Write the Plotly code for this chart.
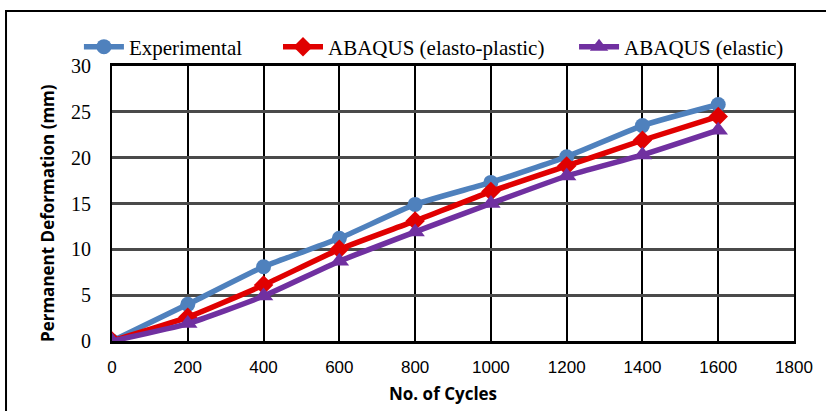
import plotly.graph_objects as go

cycles = [0, 200, 400, 600, 800, 1000, 1200, 1400, 1600]
experimental = [0, 4.0, 8.1, 11.2, 14.9, 17.3, 20.1, 23.5, 25.8]
elasto_plastic = [0, 2.6, 6.1, 10.0, 13.1, 16.3, 19.1, 21.9, 24.5]
elastic = [0, 1.9, 4.9, 8.7, 11.9, 15.0, 18.0, 20.3, 23.0]

x_ticks = [0, 200, 400, 600, 800, 1000, 1200, 1400, 1600, 1800]
y_ticks = [0, 5, 10, 15, 20, 25, 30]

x_title = "No. of Cycles"
y_title = "Permanent Deformation (mm)"

series = [
    ("Experimental", experimental, "#4F81BD", "circle", 15, "legend"),
    ("ABAQUS (elasto-plastic)", elasto_plastic, "#E00000", "diamond", 15, "legend2"),
    ("ABAQUS (elastic)", elastic, "#7030A0", "triangle-up", 17, "legend3"),
]

fig = go.Figure()
for name, vals, color, sym, size, lg in series:
    fig.add_trace(go.Scatter(
        x=cycles, y=vals, name=name, mode="lines+markers", legend=lg,
        line=dict(color=color, width=5.5, shape="spline", smoothing=0.5),
        marker=dict(symbol=sym, size=size, color=color),
    ))

serif = "Liberation Serif"
legend_font = dict(family=serif, size=21, color="black")
leg_common = dict(orientation="h", yanchor="middle", y=1.069, xanchor="left",
                  font=legend_font, bgcolor="rgba(0,0,0,0)", itemwidth=40)

fig.update_layout(
    width=826, height=411,
    margin=dict(l=112, r=32, t=66, b=70, autoexpand=False),
    paper_bgcolor="white", plot_bgcolor="white",
    showlegend=True,
    legend=dict(x=-0.0485, **leg_common),
    legend2=dict(x=0.2434, **leg_common),
    legend3=dict(x=0.6775, **leg_common),
    xaxis=dict(range=[0, 1800], tickvals=x_ticks, ticktext=[str(v) for v in x_ticks],
               showgrid=True, gridcolor="black", gridwidth=2,
               showline=True, linecolor="black", linewidth=3, mirror=True,
               ticks="", zeroline=False, automargin=False, ticklabelstandoff=9,
               tickfont=dict(family="Liberation Sans", size=17, color="black")),
    yaxis=dict(range=[0, 30], tickvals=y_ticks, ticktext=[str(v) for v in y_ticks],
               showgrid=True, gridcolor="#4a4a4a", gridwidth=2.5,
               showline=True, linecolor="black", linewidth=2, mirror=True,
               ticks="", zeroline=False, automargin=False, ticklabelstandoff=15,
               tickfont=dict(family=serif, size=20, color="black")),
)

fig.add_annotation(text="<b>%s</b>" % x_title, xref="paper", yref="paper",
                   x=0.4853, y=-0.191, xanchor="center", yanchor="middle", showarrow=False,
                   font=dict(family="Open Sans", size=17, color="black"))
fig.add_annotation(text="<b>%s</b>" % y_title, xref="paper", yref="paper",
                   x=-0.0938, y=0.4655, xanchor="center", yanchor="middle", showarrow=False,
                   textangle=-90, font=dict(family="Open Sans", size=17, color="black"))

fig.add_shape(type="rect", xref="paper", yref="paper",
              x0=-0.1554, x1=1.06, y0=-0.3, y1=1.2,
              line=dict(color="black", width=2), fillcolor="rgba(0,0,0,0)", layer="below")

fig.write_html("out.html", config={"displayModeBar": False},
               post_script="document.body.style.margin='0';")
